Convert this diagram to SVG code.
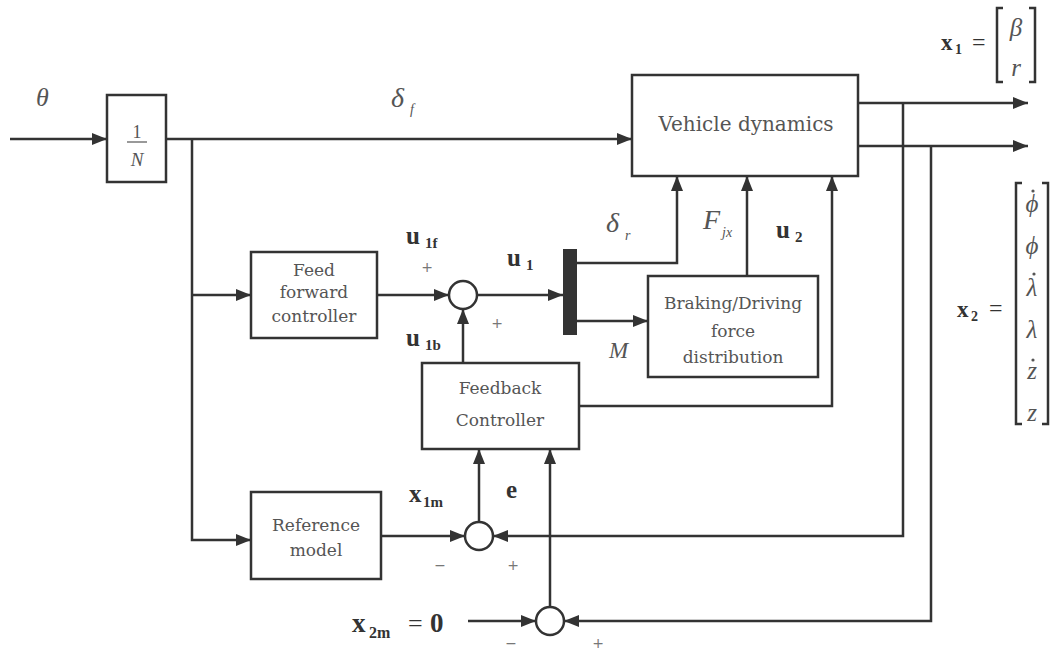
<svg xmlns="http://www.w3.org/2000/svg" width="1053" height="655" viewBox="0 0 1053 655">
<style>
.box{fill:#fff;stroke:#333;stroke-width:2.5}
.ln{fill:none;stroke:#333;stroke-width:2.5}
.arr{fill:none;stroke:#333;stroke-width:2.5;marker-end:url(#ah)}
.sum{fill:#fff;stroke:#333;stroke-width:2.5}
.bt{font-family:"DejaVu Serif","Liberation Serif",serif;font-size:17px;fill:#555;text-anchor:middle}
.big{font-size:20px}
.mi{font-family:"Liberation Serif","DejaVu Serif",serif;font-style:italic;fill:#555}
.rm{font-family:"Liberation Serif","DejaVu Serif",serif;fill:#555}
.bd{font-family:"Liberation Serif","DejaVu Serif",serif;font-weight:bold;fill:#333}
.eq{font-family:"Liberation Serif","DejaVu Serif",serif;fill:#333}
.sg{font-family:"DejaVu Sans",sans-serif;font-size:14px;fill:#777;text-anchor:middle}
</style>
<defs>
<marker id="ah" markerWidth="15" markerHeight="12" refX="15" refY="6" orient="auto" markerUnits="userSpaceOnUse"><path d="M0,0 L15,6 L0,12 z" fill="#333"/></marker>
</defs>
<rect width="1053" height="655" fill="#fff"/>

<g id="connectors">
<path class="arr" d="M10,139 H107"/>
<path class="arr" d="M166,139 H632"/>
<path class="arr" d="M192,139 V540 H251"/>
<path class="arr" d="M192,295 H251"/>
<path class="arr" d="M377,295 H449"/>
<path class="arr" d="M477,295 H563"/>
<path class="arr" d="M577,263 H677 V176"/>
<path class="arr" d="M577,321 H648"/>
<path class="arr" d="M747,276 V176"/>
<path class="arr" d="M579,406 H832 V176"/>
<path class="arr" d="M463,363 V309"/>
<path class="arr" d="M381,536 H465"/>
<path class="arr" d="M903,103 V536 H493"/>
<path class="arr" d="M479,522 V449"/>
<path class="arr" d="M931,146 V621 H564"/>
<path class="arr" d="M550,607 V449"/>
<path class="arr" d="M468,621 H536"/>
<path class="arr" d="M858,103 H1028"/>
<path class="arr" d="M858,146 H1028"/>
</g>

<g id="gain">
<rect class="box" x="107" y="95" width="59" height="87"/>
<text class="rm" x="137" y="138" font-size="18" text-anchor="middle">1</text>
<line x1="127" y1="142" x2="147" y2="142" stroke="#555" stroke-width="1.2"/>
<text class="mi" x="137" y="166" font-size="19" text-anchor="middle">N</text>
</g>

<g id="vehicle">
<rect class="box" x="632" y="75" width="226" height="101"/>
<text class="bt big" x="746" y="131">Vehicle dynamics</text>
</g>

<g id="feedforward">
<rect class="box" x="251" y="252" width="126" height="86"/>
<text class="bt" x="314" y="276">Feed</text>
<text class="bt" x="314" y="298">forward</text>
<text class="bt" x="314" y="322">controller</text>
</g>

<g id="sum1"><circle class="sum" cx="463" cy="295" r="14"/></g>

<g id="mux"><rect x="563" y="249" width="14" height="86" fill="#333"/></g>

<g id="braking">
<rect class="box" x="648" y="276" width="170" height="101"/>
<text class="bt" x="733" y="309">Braking/Driving</text>
<text class="bt" x="733" y="337">force</text>
<text class="bt" x="733" y="363">distribution</text>
</g>

<g id="feedback">
<rect class="box" x="422" y="363" width="157" height="86"/>
<text class="bt" x="500" y="394">Feedback</text>
<text class="bt" x="500" y="426">Controller</text>
</g>

<g id="reference">
<rect class="box" x="251" y="492" width="130" height="87"/>
<text class="bt" x="316" y="531">Reference</text>
<text class="bt" x="316" y="556">model</text>
</g>

<g id="sum2"><circle class="sum" cx="479" cy="536" r="14"/></g>
<g id="sum3"><circle class="sum" cx="550" cy="621" r="14"/></g>

<g id="labels">
<text class="mi" x="36" y="106" font-size="26">θ</text>
<text class="mi" x="391" y="107" font-size="28">δ</text>
<text class="mi" x="410" y="114" font-size="14">f</text>

<text class="bd" x="406" y="244" font-size="25">u</text>
<text class="bd" x="425" y="248" font-size="15">1f</text>
<text class="sg" x="427" y="272">+</text>
<text class="bd" x="507" y="266" font-size="25">u</text>
<text class="bd" x="526" y="270" font-size="15">1</text>

<text class="mi" x="606" y="232" font-size="28">δ</text>
<text class="mi" x="625" y="240" font-size="14">r</text>
<text class="mi" x="703" y="229" font-size="28">F</text>
<text class="mi" x="722" y="237" font-size="14">jx</text>
<text class="bd" x="776" y="238" font-size="25">u</text>
<text class="bd" x="795" y="242" font-size="15">2</text>

<text class="mi" x="609" y="358" font-size="23">M</text>
<text class="bd" x="406" y="346" font-size="25">u</text>
<text class="bd" x="425" y="350" font-size="15">1b</text>
<text class="sg" x="497" y="328">+</text>

<text class="bd" x="409" y="502" font-size="25">x</text>
<text class="bd" x="423" y="507" font-size="15">1m</text>
<text class="bd" x="506" y="498" font-size="25">e</text>
<text class="sg" x="440" y="570">−</text>
<text class="sg" x="513" y="570">+</text>

<text class="bd" x="352" y="632" font-size="27">x</text>
<text class="bd" x="369" y="638" font-size="16">2m</text>
<text class="eq" x="408" y="632" font-size="26">=</text>
<text class="bd" x="430" y="632" font-size="27">0</text>
<text class="sg" x="511" y="648">−</text>
<text class="sg" x="598" y="648">+</text>

<text class="bd" x="941" y="50" font-size="23">x</text>
<text class="bd" x="955" y="54" font-size="14">1</text>
<text class="eq" x="972" y="50" font-size="24">=</text>
<path class="ln" d="M1003,8 H997 V82 H1003 M1029,8 H1035 V82 H1029" stroke-width="1.5"/>
<text class="mi" x="1016" y="36" font-size="25" text-anchor="middle">β</text>
<text class="mi" x="1016" y="76" font-size="25" text-anchor="middle">r</text>

<text class="bd" x="957" y="317" font-size="23">x</text>
<text class="bd" x="971" y="321" font-size="14">2</text>
<text class="eq" x="989" y="316" font-size="24">=</text>
<path class="ln" d="M1022,183 H1016 V424 H1022 M1042,183 H1048 V424 H1042" stroke-width="1.5"/>
<text class="mi" x="1032" y="212" font-size="25" text-anchor="middle">ϕ</text>
<circle cx="1033" cy="191" r="1.6" fill="#555"/>
<text class="mi" x="1032" y="254" font-size="25" text-anchor="middle">ϕ</text>
<text class="mi" x="1032" y="296" font-size="25" text-anchor="middle">λ</text>
<circle cx="1034" cy="274" r="1.6" fill="#555"/>
<text class="mi" x="1032" y="338" font-size="25" text-anchor="middle">λ</text>
<text class="mi" x="1032" y="379" font-size="25" text-anchor="middle">z</text>
<circle cx="1033" cy="360" r="1.6" fill="#555"/>
<text class="mi" x="1032" y="421" font-size="25" text-anchor="middle">z</text>
</g>
</svg>
